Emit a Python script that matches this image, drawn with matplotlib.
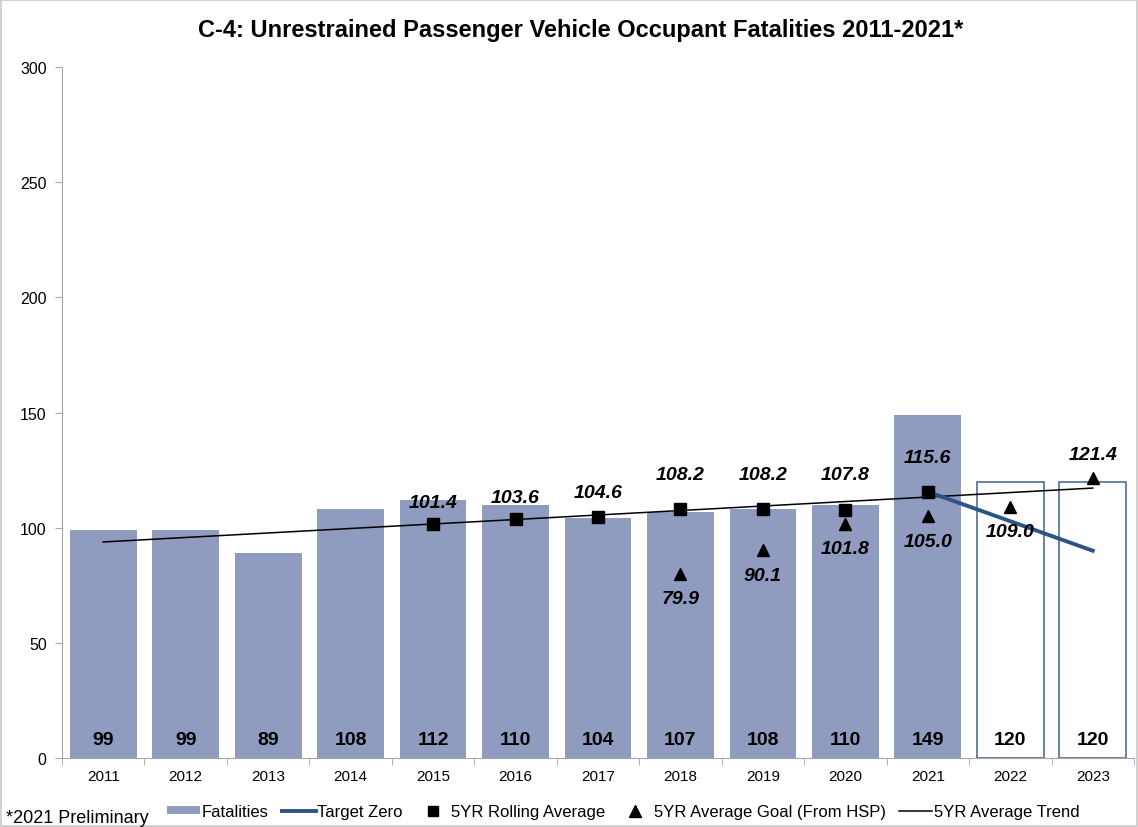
import matplotlib
matplotlib.use("Agg")
import matplotlib.pyplot as plt
from matplotlib.patches import Patch, Rectangle
from matplotlib.lines import Line2D

plt.rcParams['font.family'] = ['Liberation Sans', 'DejaVu Sans']

years = ['2011', '2012', '2013', '2014', '2015', '2016', '2017',
         '2018', '2019', '2020', '2021', '2022', '2023']
fatalities = [99, 99, 89, 108, 112, 110, 104, 107, 108, 110, 149, 120, 120]
target_years = ['2022', '2023']  # hollow bars

rolling_years = ['2015', '2016', '2017', '2018', '2019', '2020', '2021']
rolling_avg = [101.4, 103.6, 104.6, 108.2, 108.2, 107.8, 115.6]

goal_years = ['2018', '2019', '2020', '2021', '2022', '2023']
goal_avg = [79.9, 90.1, 101.8, 105.0, 109.0, 121.4]

target_zero_years = ['2021', '2023']
target_zero = [115.6, 90.0]

trend_years = ['2011', '2023']
trend_vals = [93.8, 117.2]

# label offsets (points), kept apart from the data
rolling_off = [16, 16, 18, 25, 25, 25, 25]
goal_off = [-18, -18, -18, -18, -18, 17]

bar_col = '#8f9bbf'
edge_col = '#4f6d99'
tz_col = '#2e5386'

fig = plt.figure(figsize=(11.38, 8.28), dpi=100)
ax = fig.add_axes([0.0545, 0.0833, 0.942, 0.8346])

x = list(range(len(years)))
idx = {y: i for i, y in enumerate(years)}

for i, (yr, v) in enumerate(zip(years, fatalities)):
    if yr in target_years:
        ax.bar(i, v, width=0.81, facecolor='white', edgecolor=edge_col, linewidth=1.2, zorder=2)
    else:
        ax.bar(i, v, width=0.81, color=bar_col, zorder=2)
    ax.annotate(str(v), (i, 0), xytext=(0, 13), textcoords='offset points',
                ha='center', va='center', fontsize=14, fontweight='bold', zorder=5)

ax.plot([idx[y] for y in trend_years], trend_vals, color='black', lw=1.1, zorder=3)
ax.plot([idx[y] for y in target_zero_years], target_zero, color=tz_col, lw=2.8, zorder=3)

rx = [idx[y] for y in rolling_years]
ax.plot(rx, rolling_avg, ls='none', marker='s', ms=9, color='black', zorder=4)
for xi, v, o in zip(rx, rolling_avg, rolling_off):
    ax.annotate(f'{v:.1f}', (xi, v), xytext=(0, o), textcoords='offset points',
                ha='center', va='center', fontsize=14, fontweight='bold', style='italic', zorder=5)

gx = [idx[y] for y in goal_years]
ax.plot(gx, goal_avg, ls='none', marker='^', ms=9, color='black', zorder=4)
for xi, v, o in zip(gx, goal_avg, goal_off):
    ax.annotate(f'{v:.1f}', (xi, v), xytext=(0, o), textcoords='offset points',
                ha='center', va='center', fontsize=14, fontweight='bold', style='italic', zorder=5)

ax.set_xlim(-0.5, len(years) - 0.5)
ax.set_ylim(0, 300)
ax.set_yticks(range(0, 301, 50))
ax.set_xticks(x)
ax.set_xticklabels(years, fontsize=11)
ax.set_xticks([i - 0.5 for i in range(len(years) + 1)], minor=True)
ax.tick_params(axis='x', which='major', length=0, pad=8)
ax.tick_params(axis='x', which='minor', length=5, color='#a6a6a6', direction='out')
ax.tick_params(axis='y', length=5, color='#a6a6a6', labelsize=11.5, pad=6)
for s in ['top', 'right']:
    ax.spines[s].set_visible(False)
for s in ['left', 'bottom']:
    ax.spines[s].set_color('#a6a6a6')

fig.text(0.51, 0.963, 'C-4: Unrestrained Passenger Vehicle Occupant Fatalities 2011-2021*',
         ha='center', va='center', fontsize=17, fontweight='bold')
fig.text(0.005, 0.012, '*2021 Preliminary', ha='left', va='center', fontsize=13)

handles = [
    Patch(facecolor=bar_col, edgecolor='none'),
    Line2D([], [], color=tz_col, lw=2.8),
    Line2D([], [], ls='none', marker='s', ms=7, color='black'),
    Line2D([], [], ls='none', marker='^', ms=8, color='black'),
    Line2D([], [], color='black', lw=1.1),
]
labels = ['Fatalities', 'Target Zero', '5YR Rolling Average',
          '5YR Average Goal (From HSP)', '5YR Average Trend']
fig.legend(handles, labels, loc='center left', bbox_to_anchor=(0.141, 0.019), ncol=5,
           frameon=False, fontsize=12, handlelength=2.0, handletextpad=0.1,
           handleheight=0.35, columnspacing=0.8, borderaxespad=0)

fig.patches.append(Rectangle((0.001, 0.001), 0.998, 0.998, transform=fig.transFigure,
                             fill=False, edgecolor='#c8c8c8', lw=1.2))

fig.savefig('out.png', dpi=100)
